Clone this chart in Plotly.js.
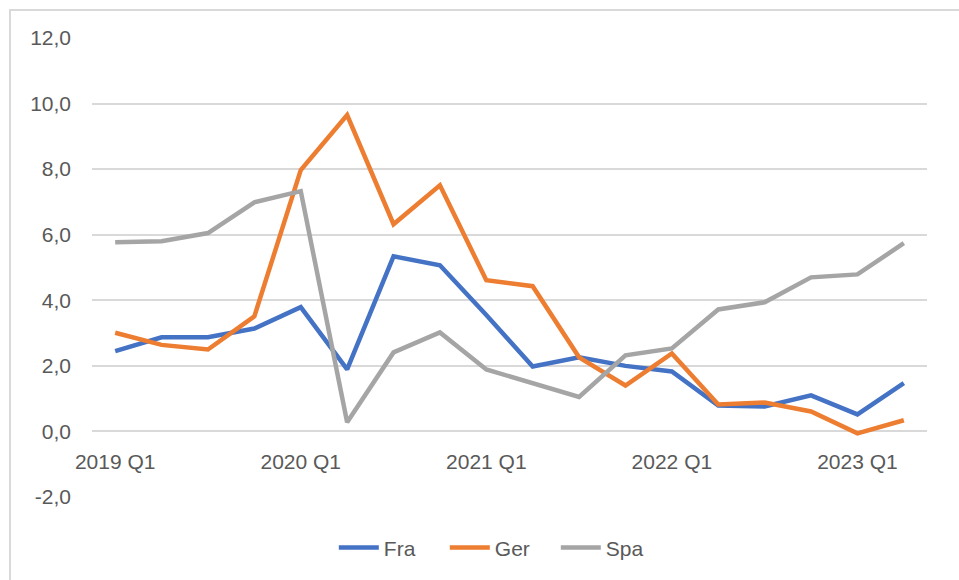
<!DOCTYPE html>
<html>
<head>
<meta charset="utf-8">
<script src="https://cdn.plot.ly/plotly-3.0.1.min.js"></script>
<style>
  html, body { margin: 0; padding: 0; background: #fff; }
  #wrap { position: relative; width: 959px; height: 580px; }
  #chart { position: absolute; left: 0; top: 0; width: 959px; height: 580px; }
  #frame { position: absolute; left: 9px; top: 9px; right: 0; bottom: 0;
           border-top: 2px solid #D9D9D9; border-left: 2px solid #D9D9D9; pointer-events: none; }
</style>
</head>
<body>
<div id="wrap">
  <div id="chart"></div>
  <div id="frame"></div>
</div>
<script>
const quarters = [
  '2019 Q1','2019 Q2','2019 Q3','2019 Q4',
  '2020 Q1','2020 Q2','2020 Q3','2020 Q4',
  '2021 Q1','2021 Q2','2021 Q3','2021 Q4',
  '2022 Q1','2022 Q2','2022 Q3','2022 Q4',
  '2023 Q1','2023 Q2'
];
const fra = [2.45, 2.87, 2.87, 3.14, 3.79, 1.89, 5.34, 5.07, 3.55, 1.98, 2.26, 2.0, 1.83, 0.79, 0.76, 1.10, 0.52, 1.47];
const ger = [3.01, 2.64, 2.50, 3.51, 7.97, 9.65, 6.32, 7.51, 4.61, 4.43, 2.26, 1.40, 2.38, 0.82, 0.88, 0.61, -0.06, 0.34];
const spa = [5.77, 5.80, 6.05, 6.99, 7.33, 0.28, 2.41, 3.02, 1.89, 1.47, 1.05, 2.32, 2.53, 3.72, 3.94, 4.70, 4.79, 5.74];
const xTickVals = ['2019 Q1','2020 Q1','2021 Q1','2022 Q1','2023 Q1'];
const yTickVals = [-2, 0, 2, 4, 6, 8, 10, 12];
const yTickText = ['-2,0','0,0','2,0','4,0','6,0','8,0','10,0','12,0'];

const FONT = 'Liberation Sans, Arial, sans-serif';
const TXT = '#595959';

const mk = (name, y, color) => ({
  type: 'scatter', mode: 'lines', name: name, x: quarters, y: y,
  line: { color: color, width: 4.5, shape: 'linear' },
  hoverinfo: 'skip'
});

const data = [
  mk('Fra', fra, '#4472C4'),
  mk('Ger', ger, '#ED7D31'),
  mk('Spa', spa, '#A5A5A5')
];

const layout = {
  width: 959, height: 580,
  margin: { l: 92, r: 32, t: 38, b: 83, pad: 0 },
  paper_bgcolor: '#ffffff', plot_bgcolor: '#ffffff',
  font: { family: FONT, size: 21, color: TXT },
  showlegend: true,
  legend: {
    orientation: 'h', x: 0.489, xanchor: 'center', y: -0.111, yanchor: 'middle',
    font: { family: FONT, size: 21, color: TXT }, itemwidth: 40, traceorder: 'normal',
    entrywidth: 56, entrywidthmode: 'pixels'
  },
  xaxis: {
    type: 'category', range: [-0.5, 17.5],
    tickmode: 'array', tickvals: xTickVals, ticktext: xTickVals,
    showgrid: false, zeroline: false, showline: false, ticks: '',
    anchor: 'free', position: (0 - (-2)) / 14,
    ticklabelstandoff: 16,
    tickfont: { family: FONT, size: 21, color: TXT },
    fixedrange: true
  },
  yaxis: {
    range: [-2, 12],
    tickmode: 'array', tickvals: yTickVals, ticktext: yTickText,
    showgrid: true, gridcolor: '#D9D9D9', gridwidth: 2,
    zeroline: false, showline: false, ticks: '',
    ticklabelstandoff: 20,
    tickfont: { family: FONT, size: 21, color: TXT },
    fixedrange: true
  }
};

Plotly.newPlot('chart', data, layout, { staticPlot: true, displayModeBar: false });
</script>
</body>
</html>
